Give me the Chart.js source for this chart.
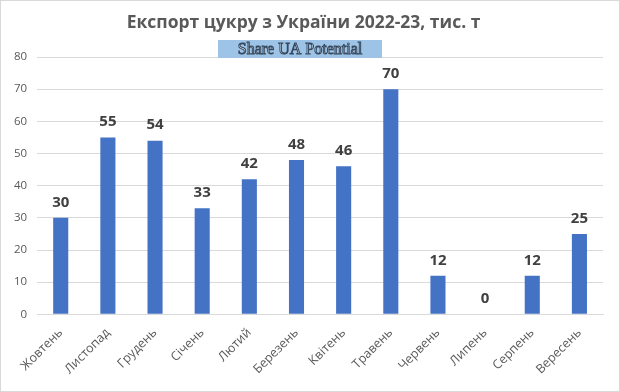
<!DOCTYPE html>
<html>
<head>
<meta charset="utf-8">
<script src="https://cdn.jsdelivr.net/npm/chart.js@4"></script>
<style>
  body { margin: 0; background: #fff; }
  #wrap { width: 620px; height: 392px; position: relative; }
</style>
</head>
<body>
<div id="wrap"><canvas id="myChart"></canvas></div>
<script>
const ctx = document.getElementById('myChart')
const misyatsi = ['Жовтень', 'Листопад', 'Грудень', 'Січень', 'Лютий', 'Березень', 'Квітень', 'Травень', 'Червень', 'Липень', 'Серпень', 'Вересень']
const eksport = [30, 55, 54, 33, 42, 48, 46, 70, 12, 0, 12, 25]
const pidpysy = ['30', '55', '54', '33', '42', '48', '46', '70', '12', '0', '12', '25']

// pidpysy nad stovpchykamy + ramka + vodyanyi znak
const dodatky = {
    id: 'dodatky',
    afterDatasetsDraw(chart) {
        const c = chart.ctx
        const meta = chart.getDatasetMeta(0)
        c.save()
        c.font = 'bold 15px "Open Sans"'
        c.fillStyle = '#404040'
        c.textAlign = 'center'
        c.textBaseline = 'bottom'
        meta.data.forEach((bar, i) => {
            c.fillText(pidpysy[i], bar.x, bar.y - 8)
        })
        c.restore()
    },
    afterDraw(chart) {
        const c = chart.ctx
        c.save()
        c.strokeStyle = '#d9d9d9'
        c.lineWidth = 1
        c.strokeRect(0.5, 0.5, chart.width - 1, chart.height - 1)
        // vodyanyi znak
        c.fillStyle = '#9dc3e6'
        c.fillRect(218, 40, 164, 18)
        c.font = '16px "Liberation Serif"'
        c.textAlign = 'center'
        c.textBaseline = 'middle'
        c.lineWidth = 1
        c.strokeStyle = '#34475e'
        c.fillStyle = '#f2f6fb'
        c.fillText('Share UA Potential', 300, 49.5)
        c.strokeText('Share UA Potential', 300, 49.5)
        c.restore()
    }
}

const myChart = new Chart(ctx, {
    type: 'bar',
    data: {
        labels: misyatsi,
        datasets: [{
            label: 'Експорт',
            data: eksport,
            backgroundColor: '#4472c4',
            categoryPercentage: 1,
            barPercentage: 0.32
        }]
    },
    options: {
        responsive: true,
        maintainAspectRatio: false,
        animation: false,
        layout: { padding: { left: 4, right: 17, bottom: 12, top: 0 } },
        plugins: {
            legend: { display: false },
            tooltip: { enabled: false },
            title: {
                display: true,
                text: 'Експорт цукру з України 2022-23, тис. т',
                color: '#595959',
                font: { family: '"Open Sans"', size: 17.5, weight: 'bold' },
                padding: { top: 13, bottom: 23 }
            }
        },
        scales: {
            x: {
                grid: { display: false },
                border: { color: '#d9d9d9' },
                ticks: {
                    color: '#595959',
                    font: { family: '"Open Sans"', size: 12.5 },
                    maxRotation: 45,
                    minRotation: 45,
                    autoSkip: false
                }
            },
            y: {
                min: 0,
                max: 80,
                ticks: {
                    stepSize: 10,
                    color: '#595959',
                    font: { family: '"Open Sans"', size: 11.5 },
                    padding: 10
                },
                grid: { color: '#d9d9d9', drawTicks: false },
                border: { display: false }
            }
        }
    },
    plugins: [dodatky]
})
</script>
</body>
</html>
